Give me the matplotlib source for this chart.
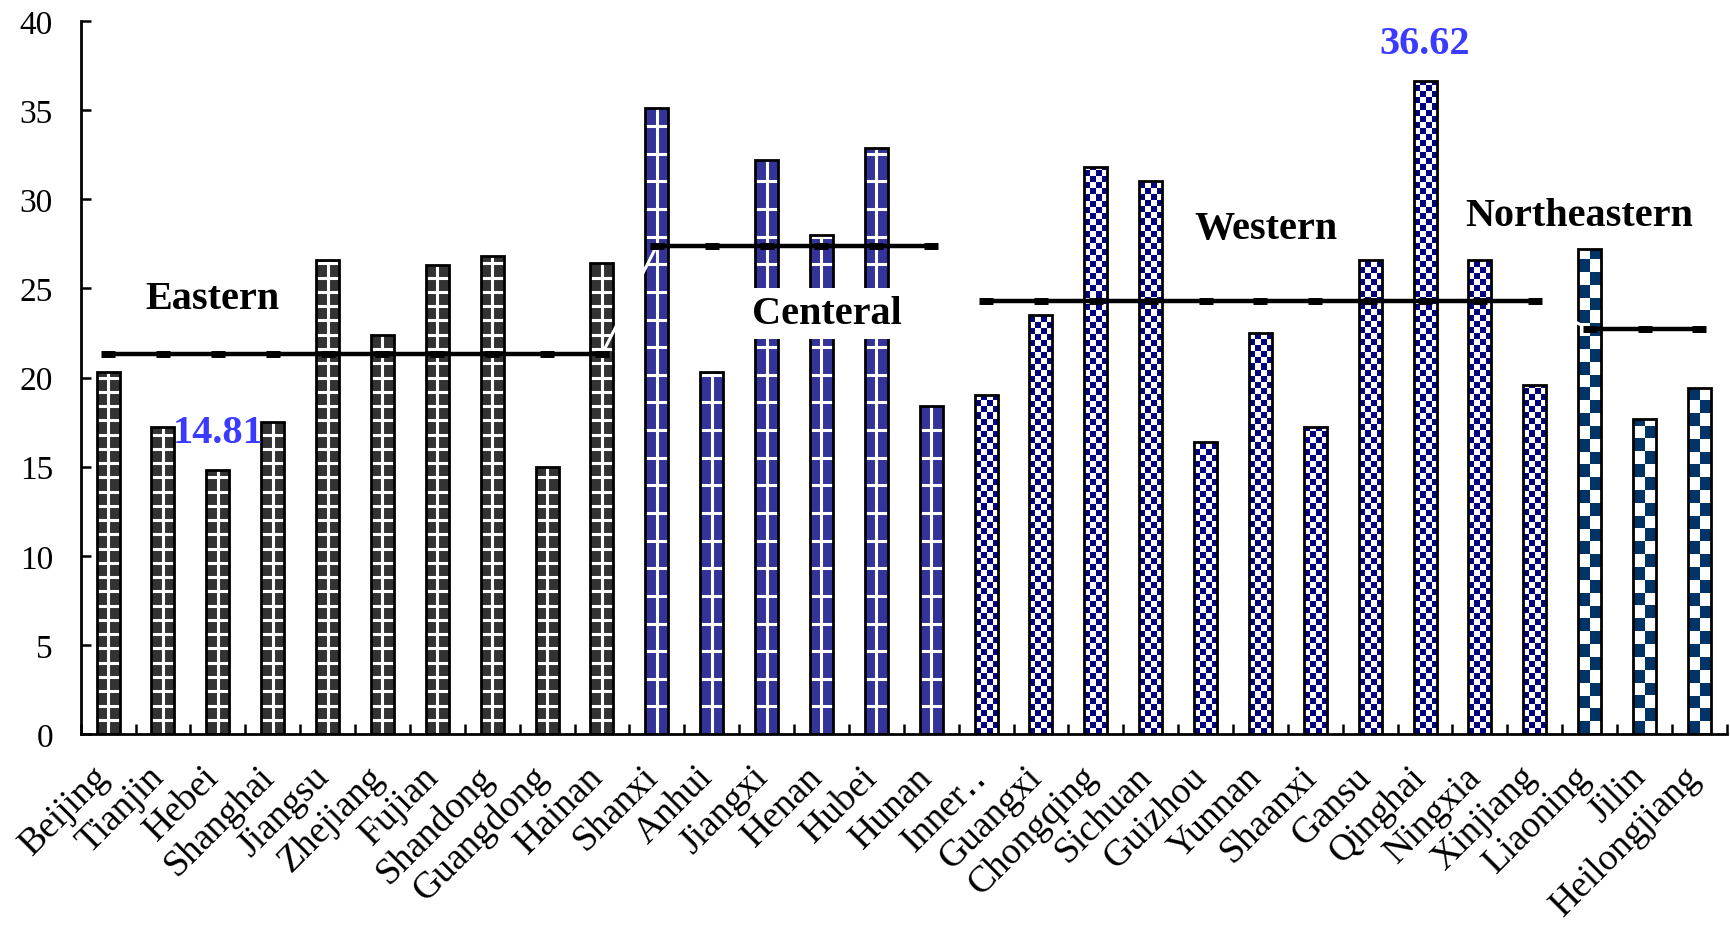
import matplotlib
matplotlib.use('Agg')
import matplotlib.pyplot as plt
from matplotlib.colors import ListedColormap
from matplotlib.transforms import ScaledTranslation
import numpy as np

# --- data ---
provinces = ['Beijing', 'Tianjin', 'Hebei', 'Shanghai', 'Jiangsu', 'Zhejiang',
             'Fujian', 'Shandong', 'Guangdong', 'Hainan',
             'Shanxi', 'Anhui', 'Jiangxi', 'Henan', 'Hubei', 'Hunan',
             'Inner\u2025', 'Guangxi', 'Chongqing', 'Sichuan', 'Guizhou', 'Yunnan',
             'Shaanxi', 'Gansu', 'Qinghai', 'Ningxia', 'Xinjiang',
             'Liaoning', 'Jilin', 'Heilongjiang']
values = [20.3, 17.2, 14.81, 17.5, 26.6, 22.4, 26.3, 26.8, 15.0, 26.4,
          35.1, 20.3, 32.2, 28.0, 32.9, 18.4,
          19.0, 23.5, 31.8, 31.0, 16.4, 22.5, 17.2, 26.6, 36.62, 26.6, 19.6,
          27.2, 17.7, 19.4]
region_names = ['Eastern', 'Centeral', 'Western', 'Northeastern']
region_sizes = [10, 6, 11, 3]
region_avg = [21.3, 27.4, 24.3, 22.7]
highlight = ['Hebei', 'Qinghai']

# --- look of each region's bars ---
# ('grid', face, pitch) -> white cross grid; ('check', colour, ncols, cell) -> checkerboard
styles = [('grid', '#333333', 0.80),
          ('grid', '#333399', 1.55),
          ('check', '#000080', 4, 0.34),
          ('check', '#003366', 2, 0.72)]
label_pos = [(1.9, 24.45), (13.1, 23.6), (21.1, 28.35), (26.8, 29.1)]

serif = 'Liberation Serif'
W = 0.42

fig = plt.figure(figsize=(17.31, 9.29), dpi=100)
ax = fig.add_axes([0.0466, 0.2088, 0.951, 0.7675])

x = np.arange(len(provinces))
region_of = np.repeat(np.arange(len(region_names)), region_sizes)

for xi, v, r in zip(x, values, region_of):
    st = styles[r]
    if st[0] == 'grid':
        bar = ax.bar(xi, v, width=W, color=st[1], edgecolor='none', zorder=2)[0]
        ys = np.arange(st[2], v, st[2])
        ax.hlines(ys, xi - W / 2, xi + W / 2, color='white', lw=2.2, zorder=2.5)
        ax.vlines(xi, 0, v, color='white', lw=2.2, zorder=2.5)
    else:
        bar = ax.bar(xi, v, width=W, color='white', edgecolor='none', zorder=2)[0]
        ncols, cell = st[2], st[3]
        nrows = int(np.ceil(v / cell))
        pattern = np.add.outer(np.arange(nrows), np.arange(ncols)) % 2
        im = ax.imshow(pattern, cmap=ListedColormap([st[1], 'white']),
                       extent=(xi - W / 2, xi + W / 2, 0, nrows * cell),
                       origin='lower', aspect='auto', interpolation='nearest',
                       zorder=2.5)
        im.set_clip_path(bar)

# outlines on top of the textures
ax.bar(x, values, width=W, fill=False, edgecolor='black', linewidth=2.0, zorder=3)

# regional average lines; links between regions are white
avg_series = np.repeat(region_avg, region_sizes)
starts = np.cumsum([0] + region_sizes[:-1])
for s, n, r in zip(starts, region_sizes, range(len(region_names))):
    ax.plot(x[s:s + n], avg_series[s:s + n], color='black', lw=3.2,
            marker='_', ms=10, mew=5, zorder=5)
    if s > 0:
        ax.plot(x[s - 1:s + 1], avg_series[s - 1:s + 1], color='white', lw=2.2, zorder=4)

# region names
for r, name in enumerate(region_names):
    kw = {}
    if name == 'Centeral':
        kw['bbox'] = dict(facecolor='white', edgecolor='none', pad=5)
    ax.text(*label_pos[r], name, ha='center', va='center', fontsize=29,
            fontweight='bold', family=serif, zorder=6, **kw)

# value labels
for name in highlight:
    i = provinces.index(name)
    ax.text(x[i], values[i] + 2.1, f'{values[i]:.2f}', ha='center', va='center',
            fontsize=29, fontweight='bold', family=serif, color='#3b3bff', zorder=6)

ax.set_xlim(-0.5, len(provinces) - 0.5)
ax.set_ylim(0, 40)
ax.set_yticks(np.arange(0, 41, 5))
ax.set_xticks(x)
ax.set_xticklabels(provinces, rotation=45, ha='right',
                   fontsize=27, family=[serif, 'DejaVu Sans'])
ax.set_xticks(np.arange(-0.5, len(provinces), 1), minor=True)
ax.tick_params(axis='x', which='major', length=0, pad=18)
ax.tick_params(axis='x', which='minor', direction='in', length=7, width=1.8)
ax.tick_params(axis='y', direction='in', length=7, width=1.8, pad=20, labelsize=24)
for lbl in ax.get_yticklabels():
    lbl.set_family(serif)
for lbl in ax.get_xticklabels():
    lbl.set_transform(lbl.get_transform() + ScaledTranslation(0.08, 0, fig.dpi_scale_trans))

for side in ['top', 'right']:
    ax.spines[side].set_visible(False)
for side in ['left', 'bottom']:
    ax.spines[side].set_linewidth(2)

fig.savefig('out.png', dpi=100)
